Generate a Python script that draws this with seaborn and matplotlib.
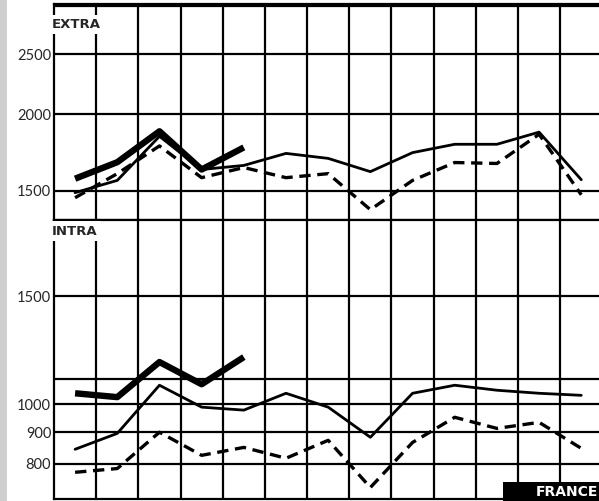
import matplotlib
matplotlib.use("Agg")
import matplotlib.pyplot as plt
from matplotlib.patches import Rectangle
from matplotlib.ticker import FixedLocator, NullLocator
import seaborn as sns

# 13 periods, each plotted in the middle of a grid column
periods = list(range(13))

# EXTRA panel
extra_thick = [1570, 1670, 1875, 1625, 1765]
extra_thin = [1490, 1560, 1840, 1625, 1650, 1726, 1694, 1612, 1731, 1786, 1786, 1869, 1564]
extra_dashed = [1462, 1600, 1775, 1576, 1637, 1576, 1600, 1398, 1560, 1668, 1662, 1854, 1478]
extra_ticks = [1500, 2000, 2500]
extra_tick_labels = ["1500", "2000", "2500"]
extra_grid = [1500, 2000, 2500, 3000]

# INTRA panel
intra_thick = [1042, 1027, 1172, 1078, 1194]
intra_thin = [844, 896, 1074, 989, 978, 1042, 989, 883, 1042, 1074, 1054, 1042, 1034]
intra_dashed = [774, 785, 900, 825, 850, 816, 873, 731, 866, 952, 913, 934, 847]
intra_ticks = [800, 900, 1000, 1500]
intra_tick_labels = ["800", "900", "1000", "1500"]
intra_grid = [800, 900, 1000, 1100, 1500]

sns.set_style("white")
plt.rcParams['font.family'] = ['Lato', 'DejaVu Sans']
label_font = ['DejaVu Sans']

W, H = 599, 501
fig = plt.figure(figsize=(W / 100, H / 100), dpi=100)

left = 54 / W
ax_top = fig.add_axes([left, 1 - 220 / H, 1 - left, 216 / H])
ax_bot = fig.add_axes([left, 1 - 499 / H, 1 - left, 279 / H])

col_edges = [p + 0.5 for p in periods[:-1]]


def draw_panel(ax, thick, thin, dashed, ylim, ticks, tick_labels, grid_vals, label, label_y):
    ax.set_yscale('log')
    ax.set_xlim(-0.5, 12.42)
    ax.set_ylim(*ylim)
    for xv in col_edges:
        ax.axvline(xv, color='black', lw=1.6, zorder=1)
    for yv in grid_vals:
        ax.axhline(yv, color='black', lw=1.6, zorder=1)

    sns.lineplot(x=periods[:len(thick)], y=thick, ax=ax, color='black', lw=4.6,
                 solid_capstyle='butt', zorder=4)
    sns.lineplot(x=periods, y=thin, ax=ax, color='black', lw=2.0, zorder=3)
    sns.lineplot(x=periods, y=dashed, ax=ax, color='black', lw=2.4,
                 linestyle=(0, (3.4, 2.0)), zorder=3)

    ax.yaxis.set_major_locator(FixedLocator(ticks))
    ax.yaxis.set_minor_locator(NullLocator())
    ax.set_yticklabels(tick_labels, fontsize=10.5)
    ax.xaxis.set_major_locator(NullLocator())
    ax.xaxis.set_minor_locator(NullLocator())
    ax.tick_params(axis='y', length=0, pad=2)
    ax.set_xlabel("")
    ax.set_ylabel("")
    for side in ['left', 'top', 'bottom']:
        ax.spines[side].set_color('black')
        ax.spines[side].set_linewidth(1.6)
    ax.spines['right'].set_visible(False)

    ax.text(-0.004, label_y, label, transform=ax.transAxes, fontsize=9.5,
            family=label_font, fontweight='bold', ha='left', va='top', zorder=6,
            bbox=dict(facecolor='white', edgecolor='none', pad=2.5))


draw_panel(ax_top, extra_thick, extra_thin, extra_dashed, (1345, 3020),
           extra_ticks, extra_tick_labels, extra_grid, "EXTRA", 0.935)
draw_panel(ax_bot, intra_thick, intra_thin, intra_dashed, (700, 2000),
           intra_ticks, intra_tick_labels, intra_grid, "INTRA", 0.983)

# scanned page edge on the left
fig.patches.append(Rectangle((0, 0), 7 / W, 1, transform=fig.transFigure,
                             facecolor='#cfcfcf', edgecolor='none'))

# country tag
fig.patches.append(Rectangle((503 / W, 0), 96 / W, 19 / H, transform=fig.transFigure,
                             facecolor='black', edgecolor='none', zorder=10))
fig.text(0.999, 8.5 / H, "FRANCE", color='white', fontsize=10, family=label_font,
         fontweight='bold', ha='right', va='center', zorder=11)

fig.savefig("out.png", dpi=100)
